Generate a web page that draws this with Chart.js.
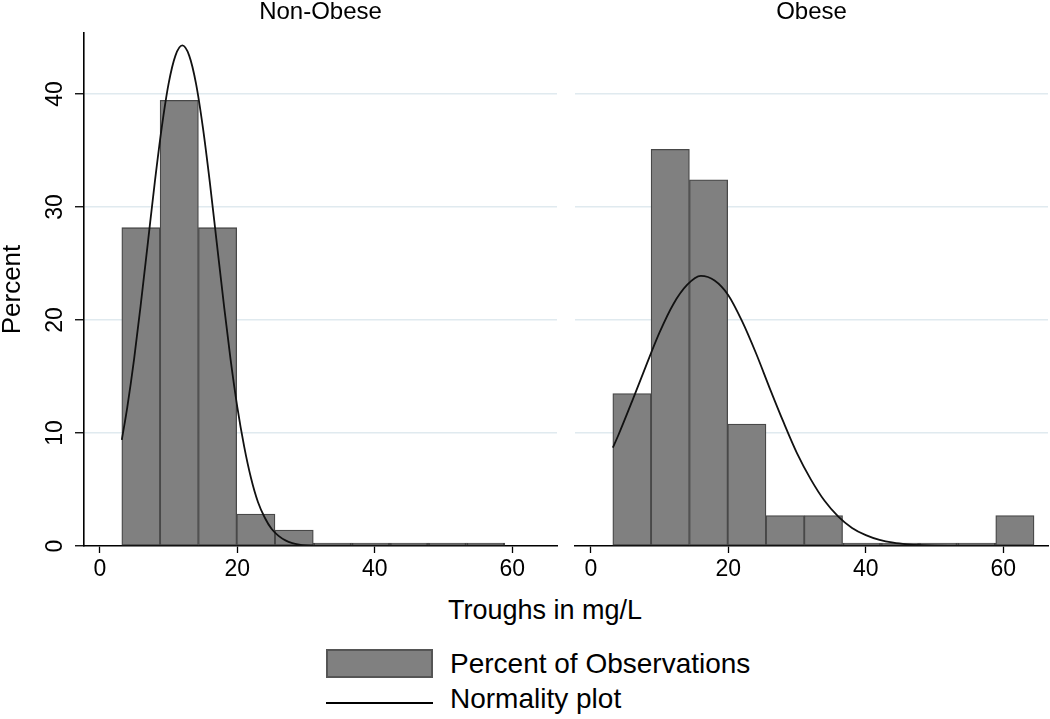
<!DOCTYPE html>
<html>
<head>
<meta charset="utf-8">
<script src="https://cdn.jsdelivr.net/npm/chart.js@4.4.0/dist/chart.umd.min.js"></script>
<style>
body{margin:0;background:#fff;width:1050px;height:719px;overflow:hidden;position:relative;font-family:"Liberation Sans",Arial,sans-serif;color:#000}
.pane{position:absolute;top:0}
.ptitle{position:absolute;top:-1px;width:473px;text-align:center;font-size:24px;line-height:24px}
.xtitle{position:absolute;left:345px;width:400px;top:597px;text-align:center;font-size:27px;line-height:27px}
.lgbox{position:absolute;left:326px;top:649px;width:107px;height:29px;box-sizing:border-box;background:#808080;border:2px solid #555}
.lgline{position:absolute;left:326px;top:702px;width:107px;height:2px;background:#000}
.lgtext{position:absolute;left:450px;font-size:28px;line-height:28px;white-space:nowrap}
</style>
</head>
<body>
<div class="pane" style="left:0"><canvas id="chartLeft" width="560" height="590"></canvas></div>
<div class="pane" style="left:560px"><canvas id="chartRight" width="490" height="590"></canvas></div>
<div class="ptitle" style="left:84px">Non-Obese</div>
<div class="ptitle" style="left:575px">Obese</div>
<div class="xtitle">Troughs in mg/L</div>
<div class="lgbox"></div>
<div class="lgline"></div>
<div class="lgtext" style="top:650px" id="lgBars"></div>
<div class="lgtext" style="top:685px" id="lgCurve"></div>
<script>
// histogram bins (mg/L)
var binStart = 3.2;
var binWidth = 5.57;

// percent of observations per bin
var nonObesePct = [28.17, 39.44, 28.17, 2.82, 1.41, 0, 0, 0, 0, 0];
var obesePct = [13.5, 35.1, 32.4, 10.8, 2.7, 2.7, 0, 0, 0, 0, 2.7];

// normality plot
var nonObeseCurveX = [3.2, 4, 5, 6, 7, 8, 9, 10, 11, 12, 13, 14, 15, 16, 17, 18, 19, 20, 21, 22, 23, 24, 25, 26, 27, 28, 29, 30, 31];
var nonObeseCurveY = [9.4, 12.3, 16.6, 21.6, 26.9, 32.2, 37.0, 40.9, 43.4, 44.3, 43.4, 40.9, 37.0, 32.2, 26.9, 21.6, 16.6, 12.3, 8.8, 6.0, 3.9, 2.5, 1.5, 0.9, 0.5, 0.26, 0.13, 0.06, 0.03];
var obeseCurveX = [3.2, 4, 6, 8, 10, 12, 14, 16, 18, 20, 22, 24, 26, 28, 30, 32, 34, 36, 38, 40, 42, 44, 46, 48, 50, 54, 58, 64.4];
var obeseCurveY = [8.7, 9.8, 12.8, 15.9, 18.9, 21.4, 23.1, 23.9, 23.5, 22.2, 19.9, 17.1, 14.0, 11.0, 8.2, 5.9, 4.0, 2.6, 1.6, 0.96, 0.54, 0.29, 0.15, 0.07, 0.03, 0.01, 0, 0];

var xTicks = [0, 20, 40, 60];
var yTicks = [0, 10, 20, 30, 40];
var barLabel = 'Percent of Observations';
var curveLabel = 'Normality plot';

Chart.defaults.font.family = '"Liberation Sans", Arial, sans-serif';
Chart.defaults.color = '#000';

function binData(pct)
{
    return pct.map(function(v, i){ return {x: binStart + binWidth * (i + 0.5), y: v}; });
}

function curveData(xs, ys)
{
    return xs.map(function(v, i){ return {x: v, y: ys[i]}; });
}

// y tick labels are rotated like the original, so draw them here
var rotatedYLabels = {
    id: 'rotatedYLabels',
    afterDraw: function(chart){
        var ctx = chart.ctx;
        var sc = chart.scales.y;
        ctx.save();
        ctx.font = '23px "Liberation Sans", Arial, sans-serif';
        ctx.fillStyle = '#000';
        ctx.textAlign = 'center';
        ctx.textBaseline = 'middle';
        yTicks.forEach(function(v){
            ctx.save();
            ctx.translate(56, sc.getPixelForValue(v));
            ctx.rotate(-Math.PI / 2);
            ctx.fillText(String(v), 0, 0);
            ctx.restore();
        });
        ctx.restore();
    }
};

function makePanel(id, pct, cx, cy, isLeft)
{
    var ctx = document.getElementById(id);
    return new Chart(ctx, {
        type: 'bar',
        data: {
            datasets: [
                {type: 'line', label: curveLabel, data: curveData(cx, cy), borderColor: '#111', borderWidth: 1.8,
                    pointRadius: 0, cubicInterpolationMode: 'monotone', fill: false, order: 0},
                {type: 'bar', label: barLabel, data: binData(pct),
                    // empty bins only show their outline, as a dark strip on the axis
                    backgroundColor: function(c){ return c.raw && c.raw.y === 0 ? '#2a2a2a' : '#808080'; },
                    borderColor: '#484848',
                    borderWidth: 1.3, borderSkipped: false, minBarLength: 3, barPercentage: 1, categoryPercentage: 1, order: 1}
            ]
        },
        options: {
            responsive: false,
            animation: false,
            layout: {padding: {left: 0, right: isLeft ? 3 : 2, top: 33, bottom: 0}},
            plugins: {legend: {display: false}, tooltip: {enabled: false}},
            scales: {
                x: {
                    type: 'linear', min: -2.3, max: 66.5, offset: false,
                    afterBuildTicks: function(s){ s.ticks = xTicks.map(function(v){ return {value: v}; }); },
                    afterFit: function(s){ s.height = 44; },
                    grid: {drawOnChartArea: false, offset: false, tickLength: 7, tickColor: '#000', tickWidth: 1.3},
                    border: {display: true, color: '#000', width: 1.6},
                    ticks: {font: {size: 23}, padding: 3, maxRotation: 0, color: '#000'}
                },
                y: {
                    min: 0, max: 45.4,
                    afterBuildTicks: function(s){ s.ticks = yTicks.map(function(v){ return {value: v}; }); },
                    afterFit: function(s){ s.width = isLeft ? 84 : 15; },
                    grid: {
                        color: function(c){ return c.tick && c.tick.value === 0 ? 'rgba(0,0,0,0)' : '#e0eaef'; },
                        lineWidth: 1.5, drawTicks: isLeft, tickLength: 9, tickColor: '#000', tickWidth: 1.3
                    },
                    border: {display: isLeft, color: '#000', width: 1.6},
                    ticks: {display: false},
                    title: {display: isLeft, text: 'Percent', font: {size: 26, lineHeight: 1}, padding: 0, color: '#000'}
                }
            }
        },
        plugins: isLeft ? [rotatedYLabels] : []
    });
}

makePanel('chartLeft', nonObesePct, nonObeseCurveX, nonObeseCurveY, true);
makePanel('chartRight', obesePct, obeseCurveX, obeseCurveY, false);

document.getElementById('lgBars').textContent = barLabel;
document.getElementById('lgCurve').textContent = curveLabel;
</script>
</body>
</html>
